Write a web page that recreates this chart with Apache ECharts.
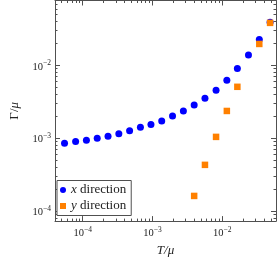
<!DOCTYPE html>
<html><head><meta charset="utf-8">
<script src="https://cdn.jsdelivr.net/npm/echarts@6/dist/echarts.min.js"></script>
<style>html,body{margin:0;padding:0;background:#fff}#c{width:277px;height:262px}</style>
</head><body><div id="c"></div>
<script>
// T/mu values and Gamma/mu values
const tX = [5.49e-5, 7.92e-5, 1.131e-4, 1.616e-4, 2.31e-4, 3.30e-4, 4.71e-4, 6.73e-4, 9.53e-4, 1.36e-3, 1.944e-3, 2.78e-3, 3.97e-3, 5.67e-3, 8.18e-3, 1.168e-2, 1.653e-2, 2.385e-2, 3.41e-2, 4.87e-2];
const gammaX = [8.51e-4, 8.97e-4, 9.34e-4, 9.94e-4, 1.057e-3, 1.15e-3, 1.263e-3, 1.41e-3, 1.535e-3, 1.72e-3, 2.01e-3, 2.35e-3, 2.86e-3, 3.53e-3, 4.56e-3, 6.23e-3, 9.06e-3, 1.387e-2, 2.26e-2, 3.91e-2];
const tY = [3.97e-3, 5.67e-3, 8.18e-3, 1.168e-2, 1.653e-2, 3.41e-2, 4.87e-2];
const gammaY = [1.60e-4, 4.28e-4, 1.038e-3, 2.36e-3, 5.07e-3, 1.97e-2, 3.84e-2];
const seriesNames = ['x direction', 'y direction'];
const xMajorTicks = [1e-4, 1e-3, 1e-2];
const xMinorTicks = [5e-5, 6e-5, 7e-5, 8e-5, 9e-5, 2e-4, 3e-4, 4e-4, 5e-4, 6e-4, 7e-4, 8e-4, 9e-4, 2e-3, 3e-3, 4e-3, 5e-3, 6e-3, 7e-3, 8e-3, 9e-3, 2e-2, 3e-2, 4e-2, 5e-2];
const yMajorTicks = [1e-4, 1e-3, 1e-2];
const yMinorTicks = [8e-5, 9e-5, 2e-4, 3e-4, 4e-4, 5e-4, 6e-4, 7e-4, 8e-4, 9e-4, 2e-3, 3e-3, 4e-3, 5e-3, 6e-3, 7e-3, 8e-3, 9e-3, 2e-2, 3e-2, 4e-2, 5e-2, 6e-2, 7e-2];
const xRange = [4.01e-5, 5.92e-2];
const yRange = [7.21e-5, 7.8e-2];

const FONT = '"Liberation Serif", "DejaVu Serif", serif';
const AX = '#505050';
const supRich = {
  b: {fontFamily: FONT, fontSize: 10.5, color: '#222', verticalAlign: 'bottom', lineHeight: 14},
  s: {fontFamily: FONT, fontSize: 7.5, color: '#222', verticalAlign: 'bottom', lineHeight: 14, padding: [0, 0, 5, 0]}
};
function fmtPow(v) {
  const e = Math.round(Math.log10(v));
  return '{b|10}{s|' + (e < 0 ? '\u2212' : '') + Math.abs(e) + '}';
}
function mkAxis(kind, pos, range, major, ticks, len, showLine, showLabel, extra) {
  return Object.assign({
    type: 'log', position: pos, min: range[0], max: range[1], logBase: 10,
    axisLine: {show: showLine, lineStyle: {color: AX, width: 1}},
    axisTick: {show: true, inside: true, length: len, customValues: ticks, lineStyle: {color: AX, width: 1}},
    axisLabel: showLabel ? {show: true, customValues: major, formatter: fmtPow, rich: supRich, margin: 4} : {show: false},
    splitLine: {show: false}, minorTick: {show: false}, minorSplitLine: {show: false}
  }, extra || {});
}
const chart = echarts.init(document.getElementById('c'), null, {renderer: 'canvas'});
chart.setOption({
  animation: false,
  backgroundColor: '#fff',
  grid: {left: 51, right: 1, top: 0.5, bottom: 37, containLabel: false},
  xAxis: [
    mkAxis('x', 'bottom', xRange, xMajorTicks, xMajorTicks, 5, true, true, {
      name: 'T/\u03bc', nameLocation: 'middle', nameGap: 22,
      nameTextStyle: {fontFamily: FONT, fontSize: 13, fontStyle: 'italic', color: '#222'}
    }),
    mkAxis('x', 'bottom', xRange, null, xMinorTicks, 2.5, false, false),
    mkAxis('x', 'top', xRange, null, xMajorTicks, 5, true, false),
    mkAxis('x', 'top', xRange, null, xMinorTicks, 2.5, false, false)
  ],
  yAxis: [
    mkAxis('y', 'left', yRange, yMajorTicks, yMajorTicks, 5, true, true, {
      name: '{u|\u0393/}{i|\u03bc}', nameLocation: 'middle', nameGap: 34, nameRotate: 90,
      nameTextStyle: {color: '#222', rich: {
        u: {fontFamily: FONT, fontSize: 13, color: '#222'},
        i: {fontFamily: FONT, fontSize: 13, fontStyle: 'italic', color: '#222'}
      }}
    }),
    mkAxis('y', 'left', yRange, null, yMinorTicks, 2.5, false, false),
    mkAxis('y', 'right', yRange, null, yMajorTicks, 5, true, false),
    mkAxis('y', 'right', yRange, null, yMinorTicks, 2.5, false, false)
  ],
  legend: {
    orient: 'vertical', left: 57, top: 180.5,
    padding: [3, 5, 3, 3], itemGap: 3, itemWidth: 6, itemHeight: 6,
    borderColor: AX, borderWidth: 1, borderRadius: 0, backgroundColor: '#fff',
    data: [{name: seriesNames[0], icon: 'circle'}, {name: seriesNames[1], icon: 'rect'}],
    formatter: function (n) { const p = n.split(' '); return '{i|' + p[0] + '} ' + p.slice(1).join(' '); },
    textStyle: {fontFamily: FONT, fontSize: 13, color: '#222',
      rich: {i: {fontFamily: FONT, fontSize: 13, fontStyle: 'italic', color: '#222'}}}
  },
  series: [
    {name: seriesNames[0], type: 'scatter', xAxisIndex: 0, yAxisIndex: 0, symbol: 'circle', symbolSize: 7,
     itemStyle: {color: '#0000ff', opacity: 1}, data: tX.map((t, i) => [t, gammaX[i]])},
    {name: seriesNames[1], type: 'scatter', xAxisIndex: 0, yAxisIndex: 0, symbol: 'rect', symbolSize: 6.5,
     itemStyle: {color: '#ff8000', opacity: 1}, data: tY.map((t, i) => [t, gammaY[i]])}
  ]
});
</script></body></html>
